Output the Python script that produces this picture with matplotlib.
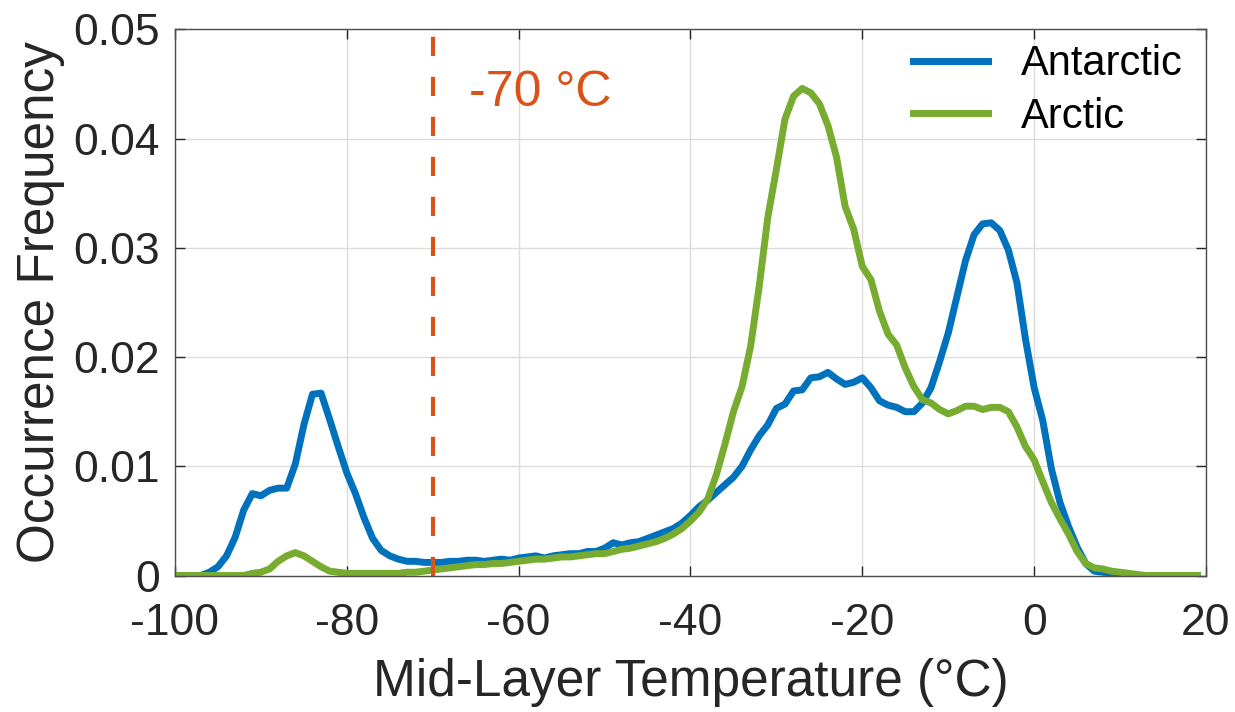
import numpy as np
import matplotlib
matplotlib.use("Agg")
import matplotlib.pyplot as plt

plt.rcParams['font.family'] = ['Liberation Sans', 'DejaVu Sans']

temperature = list(range(-100, 20))

antarctic = [
    0, 0, 0, 0, 0.0003, 0.0008, 0.0018, 0.0035, 0.0060, 0.0075,   # -100..-91
    0.0073, 0.0078, 0.0080, 0.0080, 0.0102, 0.0138, 0.0166, 0.0167, 0.0143, 0.0118,  # -90..-81
    0.0094, 0.0075, 0.0053, 0.0034, 0.0023, 0.0018, 0.0015, 0.0013, 0.0013, 0.0012,  # -80..-71
    0.0012, 0.0012, 0.0013, 0.0013, 0.0014, 0.0014, 0.0013, 0.0014, 0.0015, 0.0014,  # -70..-61
    0.0016, 0.0017, 0.0018, 0.0016, 0.0018, 0.0019, 0.0020, 0.0020, 0.0022, 0.0022,  # -60..-51
    0.0025, 0.0030, 0.0028, 0.0030, 0.0031, 0.0034, 0.0037, 0.0040, 0.0043, 0.0048,  # -50..-41
    0.0055, 0.0063, 0.0069, 0.0076, 0.0083, 0.0090, 0.0100, 0.0115, 0.0128, 0.0138,  # -40..-31
    0.0153, 0.0157, 0.0169, 0.0170, 0.0181, 0.0182, 0.0186, 0.0180, 0.0175, 0.0177,  # -30..-21
    0.0181, 0.0172, 0.0160, 0.0156, 0.0154, 0.0150, 0.0150, 0.0158, 0.0172, 0.0196,  # -20..-11
    0.0222, 0.0255, 0.0288, 0.0312, 0.0322, 0.0323, 0.0316, 0.0298, 0.0268, 0.0216,  # -10..-1
    0.0172, 0.0142, 0.0098, 0.0067, 0.0045, 0.0026, 0.0011, 0.0004, 0.0003, 0.0002,  # 0..9
    0.0001, 0, 0, 0, 0, 0, 0, 0, 0, 0,  # 10..19
]

arctic = [
    0, 0, 0, 0, 0, 0, 0, 0, 0, 0.0002,   # -100..-91
    0.0003, 0.0006, 0.0013, 0.0018, 0.0021, 0.0018, 0.0013, 0.0008, 0.0004, 0.0003,  # -90..-81
    0.0002, 0.0002, 0.0002, 0.0002, 0.0002, 0.0002, 0.0002, 0.0003, 0.0003, 0.0004,  # -80..-71
    0.0005, 0.0006, 0.0007, 0.0008, 0.0009, 0.0010, 0.0010, 0.0011, 0.0011, 0.0012,  # -70..-61
    0.0013, 0.0014, 0.0015, 0.0015, 0.0016, 0.0017, 0.0017, 0.0018, 0.0019, 0.0020,  # -60..-51
    0.0020, 0.0022, 0.0024, 0.0025, 0.0027, 0.0029, 0.0031, 0.0034, 0.0038, 0.0043,  # -50..-41
    0.0050, 0.0058, 0.0070, 0.0092, 0.0120, 0.0150, 0.0173, 0.0210, 0.0265, 0.0328,  # -40..-31
    0.0372, 0.0418, 0.0439, 0.0446, 0.0442, 0.0432, 0.0412, 0.0383, 0.0338, 0.0317,  # -30..-21
    0.0283, 0.0271, 0.0242, 0.0221, 0.0211, 0.0190, 0.0173, 0.0161, 0.0158, 0.0152,  # -20..-11
    0.0148, 0.0151, 0.0155, 0.0155, 0.0152, 0.0154, 0.0154, 0.0150, 0.0136, 0.0118,  # -10..-1
    0.0106, 0.0086, 0.0067, 0.0052, 0.0038, 0.0022, 0.0011, 0.0007, 0.0006, 0.0004,  # 0..9
    0.0003, 0.0002, 0.0001, 0, 0, 0, 0, 0, 0, 0,  # 10..19
]

threshold = -70
threshold_label = "-70 °C"
x_ticks = [-100, -80, -60, -40, -20, 0, 20]
y_ticks = [0, 0.01, 0.02, 0.03, 0.04, 0.05]
y_ticklabels = ["0", "0.01", "0.02", "0.03", "0.04", "0.05"]

blue = "#0072BD"
green = "#77AC30"
orange = "#D95319"
dark = "#262626"

fig = plt.figure(figsize=(12.35, 7.12), dpi=100)
ax = fig.add_axes([0.1417, 0.1917, 0.8348, 0.7669])

ax.plot(temperature, antarctic, color=blue, lw=5, label="Antarctic", solid_joinstyle='round')
ax.plot(temperature, arctic, color=green, lw=5, label="Arctic", solid_joinstyle='round')
ax.axvline(threshold, color=orange, lw=3, linestyle=(0, (4.6, 5.0)))
ax.text(threshold + 4.2, 0.04295, threshold_label, color=orange, fontsize=36, va='baseline', ha='left')

ax.set_xlim(-100, 20)
ax.set_ylim(0, 0.05)
ax.set_xticks(x_ticks)
ax.set_xticklabels([str(t) for t in x_ticks])
ax.set_yticks(y_ticks)
ax.set_yticklabels(y_ticklabels)
ax.grid(True, color="#dcdcdc", lw=1)
ax.set_axisbelow(True)

ax.tick_params(direction='in', length=7, width=1, colors=dark, labelsize=32,
               top=True, right=True)
ax.tick_params(axis='x', pad=20)
ax.tick_params(axis='y', pad=11)
for s in ax.spines.values():
    s.set_color("#4d4d4d")
    s.set_linewidth(1)

ax.set_xlabel("Mid-Layer Temperature (°C)", fontsize=37, color=dark, labelpad=10)
ax.set_ylabel("Occurrence Frequency", fontsize=37, color=dark, labelpad=6)

leg = ax.legend(loc='upper right', frameon=False, fontsize=30, handlelength=1.8,
                handletextpad=0.8, labelspacing=0.3, borderaxespad=0.1,
                bbox_to_anchor=(0.998, 1.011))
for t in leg.get_texts():
    t.set_color("black")

fig.savefig("out.png", dpi=100)
